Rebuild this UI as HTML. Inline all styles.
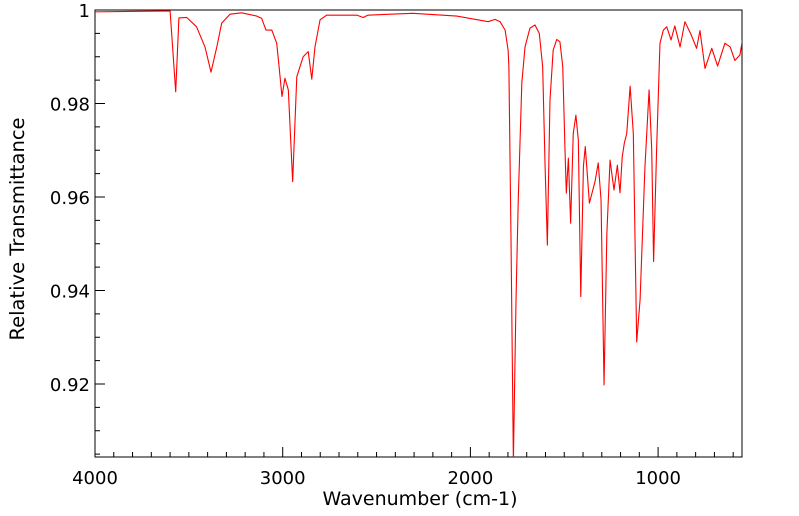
<!DOCTYPE html>
<html><head><meta charset="utf-8"><style>
body{margin:0;background:#fff}
svg{display:block;font-family:"DejaVu Sans","Liberation Sans",sans-serif}
</style></head><body>
<svg id="chart" width="799" height="516" viewBox="0 0 799 516">
<defs><clipPath id="clip"><rect x="95" y="10" width="647" height="447"/></clipPath></defs>
<rect x="95" y="10" width="647" height="447" fill="#fff" stroke="#000" stroke-width="1"/>
<g id="ticks"></g>
<g id="labels" font-size="18" fill="#000"></g>
<path id="line" fill="none" stroke="#ff0000" stroke-width="1.1" stroke-linejoin="round" clip-path="url(#clip)"/>
<text x="420" y="505" font-size="19" text-anchor="middle">Wavenumber (cm-1)</text>
<text transform="translate(24,229) rotate(-90)" font-size="19.5" text-anchor="middle">Relative Transmittance</text>
</svg>
<script>
const wavenumbers=[4000,3600,3570,3553,3511,3459,3414,3382,3351,3325,3281,3219,3138,3112,3089,3058,3032,3019,3004,2988,2970,2947,2925,2891,2864,2845,2828,2801,2766,2605,2571,2546,2306,2073,1905,1869,1842,1815,1799,1795,1784,1771,1757,1745,1726,1709,1683,1656,1633,1615,1602,1590,1576,1559,1540,1523,1508,1496,1489,1478,1466,1452,1438,1425,1412,1398,1388,1366,1336,1319,1304,1288,1273,1256,1235,1217,1203,1191,1180,1167,1149,1132,1114,1096,1070,1048,1034,1024,1008,990,972,954,931,911,883,857,824,795,777,750,714,683,644,616,591,564,551];
const transmittance=[0.9996,0.9998,0.9825,0.9983,0.9984,0.9964,0.9921,0.9867,0.9921,0.9972,0.9991,0.9994,0.9987,0.9982,0.9957,0.9957,0.9929,0.9878,0.9815,0.9854,0.9829,0.9633,0.9857,0.9900,0.9911,0.9852,0.9921,0.9979,0.9989,0.9989,0.9984,0.9989,0.9993,0.9987,0.9975,0.9980,0.9975,0.9957,0.9914,0.9879,0.9523,0.9035,0.9380,0.9594,0.9844,0.9921,0.9961,0.9968,0.9950,0.9879,0.9665,0.9497,0.9807,0.9914,0.9937,0.9932,0.9879,0.9701,0.9608,0.9683,0.9544,0.9736,0.9775,0.9722,0.9387,0.9665,0.9708,0.9587,0.9633,0.9673,0.9594,0.9198,0.9522,0.9679,0.9615,0.9668,0.9609,0.9686,0.9715,0.9736,0.9837,0.9736,0.9290,0.9380,0.9665,0.9829,0.9701,0.9462,0.9701,0.9929,0.9957,0.9964,0.9936,0.9966,0.9921,0.9975,0.9947,0.9918,0.9956,0.9875,0.9918,0.9880,0.9929,0.9921,0.9892,0.9904,0.9936];
const xTickLabels=[4000,3000,2000,1000];
const yTickLabels=["0.92","0.94","0.96","0.98","1"];
const X=w=>95+(4000-w)*0.1877;
const Y=t=>10+(1-t)*4675;
const NS="http://www.w3.org/2000/svg";
let d="";
wavenumbers.forEach((w,i)=>{d+=(i?"L":"M")+X(w).toFixed(2)+","+Y(transmittance[i]).toFixed(2);});
document.getElementById("line").setAttribute("d",d);
const tg=document.getElementById("ticks"),lg=document.getElementById("labels");
function ln(x1,y1,x2,y2){const l=document.createElementNS(NS,"line");l.setAttribute("x1",x1);l.setAttribute("y1",y1);l.setAttribute("x2",x2);l.setAttribute("y2",y2);l.setAttribute("stroke","#000");


tg.appendChild(l);}
for(let w=4000;w>=600;w-=100){const x=X(w);const major=w%1000===0;ln(x,457,x,457-(major?10:5));}
for(let k=0;k<=19;k++){const t=0.905+k*0.005;const y=Y(t);if(y<10.5||y>457)continue;const major=Math.round(t*1000)%20===0;ln(95,y,95+(major?10:5),y);}
xTickLabels.forEach(w=>{const t=document.createElementNS(NS,"text");t.setAttribute("x",X(w));t.setAttribute("y",484);t.setAttribute("text-anchor","middle");t.textContent=w;


lg.appendChild(t);});
yTickLabels.forEach(s=>{const t=document.createElementNS(NS,"text");t.setAttribute("x",90);t.setAttribute("y",Y(parseFloat(s))+7);t.setAttribute("text-anchor","end");t.textContent=s;


lg.appendChild(t);});
</script>
</body></html>
